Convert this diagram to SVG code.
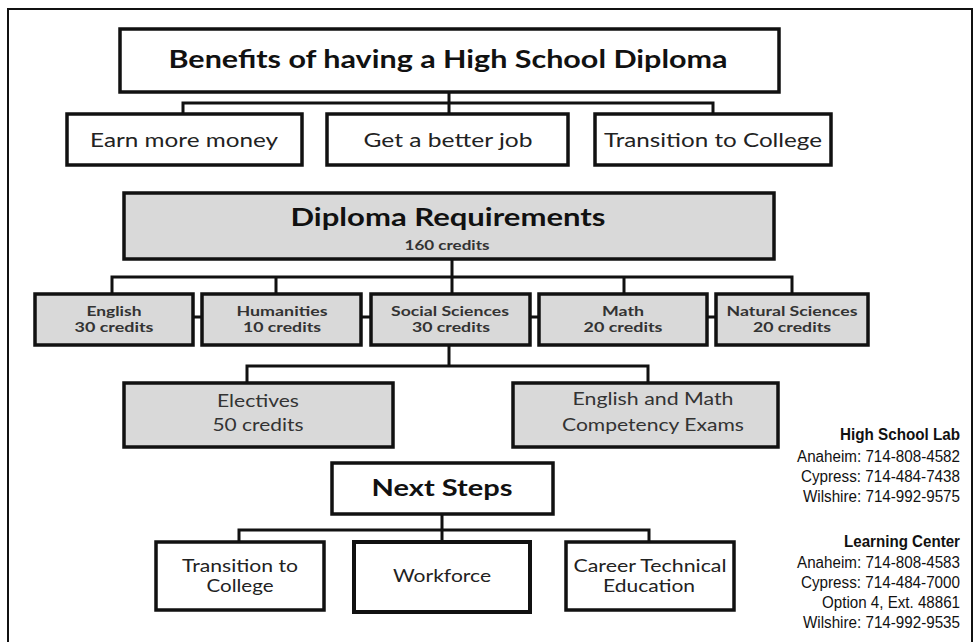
<svg xmlns="http://www.w3.org/2000/svg" width="975" height="642" viewBox="0 0 975 642">
<style>
.box{fill:#fff;stroke:#111;stroke-width:3.5}
.gbox{fill:#d9d9d9;stroke:#111;stroke-width:3.5}
.c{fill:none;stroke:#111;stroke-width:3}
text{font-family:Lato,"Open Sans","Liberation Sans",sans-serif;text-anchor:middle}
.t1{font-size:24px;font-weight:bold;fill:#111}
.t2{font-size:19.5px;fill:#222}
.t3{font-size:13.5px;font-weight:bold;fill:#333}
.t4{font-size:16.5px;fill:#333}
.t5{font-size:17px;fill:#222}
.info{font-family:"Liberation Sans Narrow","Liberation Sans",Arial,sans-serif;font-size:16px;text-anchor:end;fill:#111}
</style>
<rect width="975" height="642" fill="#fff"/>
<path d="M8,642 V9 H972 V642" fill="none" stroke="#111" stroke-width="2"/>
<g id="connectors">
<path class="c" d="M449,92 V103 M183,114 V103 H713 V114 M449,103 V114"/>
<path class="c" d="M452,259 V277 M112,294 V277 H792 V294 M276,277 V294 M452,277 V294 M624,277 V294"/>
<path class="c" d="M193,317 H202 M361,317 H371 M530,317 H539 M707,317 H716"/>
<path class="c" d="M449,345 V366 M247,383 V366 H648 V383"/>
<path class="c" d="M442,514 V530 M239,542 V530 H649 V542 M442,530 V542"/>
</g>
<g id="title"><rect class="box" x="120" y="29" width="659" height="63"/><text class="t1" x="448" y="68" textLength="559" lengthAdjust="spacingAndGlyphs">Benefits of having a High School Diploma</text></g>
<g id="earn"><rect class="box" x="67" y="114" width="235" height="51"/><text class="t2" x="184" y="147" textLength="188" lengthAdjust="spacingAndGlyphs">Earn more money</text></g>
<g id="job"><rect class="box" x="327" y="114" width="241" height="51"/><text class="t2" x="448" y="147" textLength="169" lengthAdjust="spacingAndGlyphs">Get a better job</text></g>
<g id="college1"><rect class="box" x="595" y="114" width="236" height="51"/><text class="t2" x="713" y="147" textLength="218" lengthAdjust="spacingAndGlyphs">Transition to College</text></g>
<g id="diploma"><rect class="gbox" x="124" y="193" width="650" height="66"/><text class="t1" x="448" y="226" textLength="315" lengthAdjust="spacingAndGlyphs">Diploma Requirements</text><text class="t3" style="font-size:12.5px" x="447" y="250" textLength="85" lengthAdjust="spacingAndGlyphs">160 credits</text></g>
<g id="english"><rect class="gbox" x="35" y="294" width="158" height="51"/><text class="t3" x="114" y="315.5" textLength="55" lengthAdjust="spacingAndGlyphs">English</text><text class="t3" x="114" y="332" textLength="79" lengthAdjust="spacingAndGlyphs">30 credits</text></g>
<g id="humanities"><rect class="gbox" x="202" y="294" width="159" height="51"/><text class="t3" x="282" y="315.5" textLength="91" lengthAdjust="spacingAndGlyphs">Humanities</text><text class="t3" x="282" y="332" textLength="78" lengthAdjust="spacingAndGlyphs">10 credits</text></g>
<g id="social"><rect class="gbox" x="371" y="294" width="159" height="51"/><text class="t3" x="450" y="315.5" textLength="118" lengthAdjust="spacingAndGlyphs">Social Sciences</text><text class="t3" x="451" y="332" textLength="78" lengthAdjust="spacingAndGlyphs">30 credits</text></g>
<g id="math"><rect class="gbox" x="539" y="294" width="168" height="51"/><text class="t3" x="623" y="315.5" textLength="42" lengthAdjust="spacingAndGlyphs">Math</text><text class="t3" x="623" y="332" textLength="79" lengthAdjust="spacingAndGlyphs">20 credits</text></g>
<g id="natural"><rect class="gbox" x="716" y="294" width="152" height="51"/><text class="t3" x="792" y="315.5" textLength="131" lengthAdjust="spacingAndGlyphs">Natural Sciences</text><text class="t3" x="792" y="332" textLength="78" lengthAdjust="spacingAndGlyphs">20 credits</text></g>
<g id="electives"><rect class="gbox" x="124" y="383" width="269" height="64"/><text class="t4" x="258" y="407" textLength="82" lengthAdjust="spacingAndGlyphs">Electives</text><text class="t4" x="258" y="431" textLength="91" lengthAdjust="spacingAndGlyphs">50 credits</text></g>
<g id="exams"><rect class="gbox" x="513" y="383" width="265" height="64"/><text class="t4" x="653" y="405" textLength="161" lengthAdjust="spacingAndGlyphs">English and Math</text><text class="t4" x="653" y="431" textLength="182" lengthAdjust="spacingAndGlyphs">Competency Exams</text></g>
<g id="nextsteps"><rect class="box" x="332" y="463" width="221" height="51"/><text class="t1" style="font-size:22px" x="442" y="496" textLength="141" lengthAdjust="spacingAndGlyphs">Next Steps</text></g>
<g id="college2"><rect class="box" x="156" y="542" width="168" height="68"/><text class="t5" x="240" y="572" textLength="116" lengthAdjust="spacingAndGlyphs">Transition to</text><text class="t5" x="240" y="592" textLength="67" lengthAdjust="spacingAndGlyphs">College</text></g>
<g id="workforce"><rect class="box" x="354" y="542" width="176" height="70" style="stroke-width:4"/><text class="t5" x="442" y="582" textLength="98" lengthAdjust="spacingAndGlyphs">Workforce</text></g>
<g id="cte"><rect class="box" x="566" y="542" width="168" height="68"/><text class="t5" x="650" y="572" textLength="153" lengthAdjust="spacingAndGlyphs">Career Technical</text><text class="t5" x="649" y="592" textLength="92" lengthAdjust="spacingAndGlyphs">Education</text></g>
<g id="contacts">
<text class="info" x="960" y="440" font-weight="bold" textLength="120" lengthAdjust="spacingAndGlyphs">High School Lab</text>
<text class="info" x="960" y="462" textLength="163" lengthAdjust="spacingAndGlyphs">Anaheim: 714-808-4582</text>
<text class="info" x="960" y="482" textLength="159" lengthAdjust="spacingAndGlyphs">Cypress: 714-484-7438</text>
<text class="info" x="960" y="502" textLength="157" lengthAdjust="spacingAndGlyphs">Wilshire: 714-992-9575</text>
<text class="info" x="960" y="547" font-weight="bold" textLength="116" lengthAdjust="spacingAndGlyphs">Learning Center</text>
<text class="info" x="960" y="568" textLength="163" lengthAdjust="spacingAndGlyphs">Anaheim: 714-808-4583</text>
<text class="info" x="960" y="588" textLength="159" lengthAdjust="spacingAndGlyphs">Cypress: 714-484-7000</text>
<text class="info" x="960" y="608" textLength="138" lengthAdjust="spacingAndGlyphs">Option 4, Ext. 48861</text>
<text class="info" x="960" y="628" textLength="157" lengthAdjust="spacingAndGlyphs">Wilshire: 714-992-9535</text>
</g>
</svg>
